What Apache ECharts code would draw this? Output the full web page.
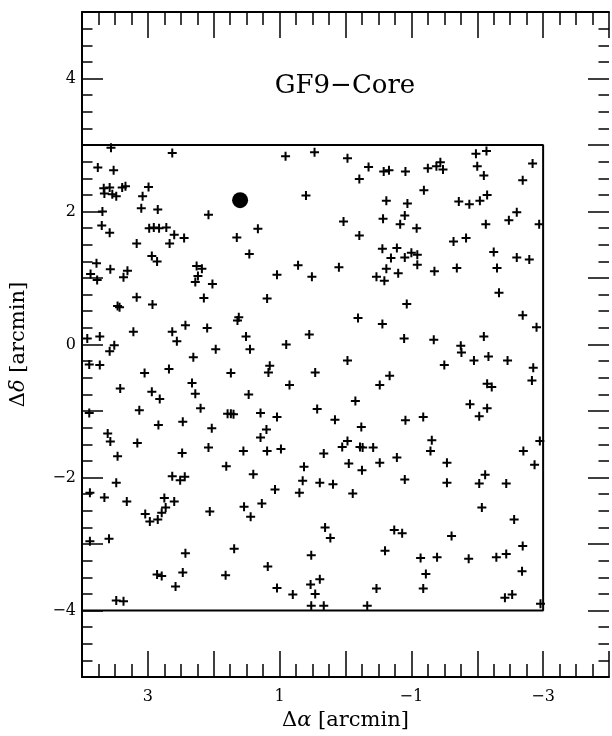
<!DOCTYPE html>
<html><head><meta charset="utf-8">
<script src="https://cdn.jsdelivr.net/npm/echarts@6/dist/echarts.min.js"></script>
<style>html,body{margin:0;padding:0;background:#fff}#c{width:612px;height:736px}</style>
</head><body><div id="c"></div>
<script>
// ---- data (arcmin offsets) ----
const titleText = 'GF9\u2212Core';
const xLabelValues = [3, 1, -1, -3];
const yLabelValues = [4, 2, 0, -2, -4];
const boxAlpha = [4, -3, -3, 4, 4];
const boxDelta = [3, 3, -4, -4, 3];
const coreAlpha = [1.60];
const coreDelta = [2.17];
const sources = [
[3.56,2.96],[2.63,2.88],[3.76,2.66],[3.52,2.62],[3.67,2.35],[3.58,2.36],[3.66,2.27],[3.54,2.26],[3.48,2.23],[3.39,2.36],[3.34,2.38],[2.99,2.37],[3.08,2.23],[3.10,2.05],[2.85,2.03],[3.69,2.00],[2.08,1.95],[3.70,1.79],[3.58,1.68],[2.98,1.75],[2.91,1.76],[2.83,1.75],[2.72,1.76],[2.60,1.65],[2.45,1.60],[2.67,1.52],[3.17,1.52],[1.65,1.61],[2.94,1.33],[2.86,1.25],[3.78,1.22],[3.57,1.13],[3.31,1.11],[3.37,1.01],[3.87,1.06],[3.77,0.97],[2.26,1.18],[2.18,1.14],[2.24,1.03],[2.28,0.94],[2.02,0.91],[2.15,0.70],[3.17,0.71],[3.46,0.58],[3.43,0.56],[2.93,0.60],[1.62,0.41],[1.64,0.36],[2.43,0.29],[2.10,0.25],[3.22,0.19],[2.63,0.19],[2.56,0.05],[3.92,0.09],[3.73,0.12],[3.51,-0.01],[3.58,-0.10],[1.97,-0.07],[2.31,-0.19],[3.89,-0.30],[3.73,-0.31],[3.05,-0.43],[2.68,-0.37],[1.74,-0.43],
[0.91,2.83],[0.47,2.89],[-0.03,2.80],[-0.35,2.67],[-0.21,2.49],[-0.58,2.60],[-0.66,2.62],[0.60,2.24],[-0.62,2.16],[1.33,1.74],[0.03,1.85],[-0.21,1.64],[-0.57,1.89],[1.46,1.36],[-0.56,1.44],[-0.69,1.30],[-0.62,1.14],[-0.47,1.02],[-0.59,0.96],[0.72,1.19],[1.04,1.05],[0.51,1.02],[0.10,1.16],[1.19,0.69],[-0.19,0.40],[-0.56,0.31],[1.51,0.12],[1.45,-0.07],[0.90,0.00],[0.55,0.15],[-0.03,-0.24],[1.15,-0.32],[1.17,-0.42],[0.46,-0.42],[-0.67,-0.47],
[-1.98,2.87],[-2.14,2.91],[-2.84,2.72],[-0.91,2.60],[-1.25,2.65],[-1.38,2.68],[-1.44,2.74],[-1.48,2.63],[-2.00,2.68],[-2.10,2.54],[-2.69,2.47],[-1.19,2.32],[-0.94,2.12],[-1.72,2.15],[-1.88,2.11],[-2.04,2.16],[-2.15,2.25],[-0.90,1.94],[-0.83,1.81],[-1.08,1.75],[-2.13,1.81],[-2.48,1.87],[-2.60,1.99],[-2.94,1.81],[-1.64,1.55],[-1.83,1.60],[-0.78,1.45],[-0.90,1.31],[-1.00,1.38],[-1.09,1.35],[-1.09,1.20],[-0.80,1.07],[-1.35,1.10],[-1.69,1.15],[-2.25,1.39],[-2.30,1.15],[-2.60,1.31],[-2.79,1.28],[-2.33,0.78],[-0.93,0.61],[-2.69,0.44],[-2.90,0.26],[-0.89,0.09],[-1.34,0.07],[-2.10,0.12],[-1.75,-0.02],[-1.76,-0.12],[-1.95,-0.24],[-2.17,-0.18],[-2.46,-0.24],[-1.50,-0.31],[-2.85,-0.35],
[3.42,-0.66],[2.94,-0.71],[2.82,-0.82],[2.33,-0.58],[2.28,-0.74],[2.20,-0.96],[3.89,-1.03],[3.13,-0.99],[1.79,-1.04],[1.74,-1.04],[1.70,-1.05],[2.84,-1.21],[2.47,-1.16],[2.03,-1.26],[3.61,-1.34],[3.57,-1.46],[3.16,-1.48],[3.46,-1.68],[2.48,-1.63],[2.08,-1.55],[1.81,-1.83],[2.63,-1.98],[2.51,-2.04],[2.44,-1.99],[3.48,-2.08],[3.88,-2.23],[3.66,-2.30],[3.32,-2.36],[2.75,-2.31],[2.60,-2.36],[2.73,-2.45],[2.79,-2.53],[3.04,-2.55],[2.97,-2.66],[2.85,-2.63],[2.06,-2.51],[3.88,-2.96],[3.59,-2.92],[2.43,-3.14],[1.69,-3.07],[2.86,-3.46],[2.79,-3.48],[2.47,-3.43],[2.58,-3.64],[1.82,-3.47],[3.48,-3.85],[3.37,-3.86],
[0.85,-0.61],[1.47,-0.75],[-0.52,-0.61],[-0.15,-0.85],[0.43,-0.97],[1.29,-1.03],[1.04,-1.09],[0.16,-1.13],[-0.24,-1.24],[1.20,-1.28],[1.29,-1.40],[1.55,-1.60],[1.19,-1.60],[0.98,-1.57],[0.33,-1.64],[0.05,-1.54],[-0.03,-1.45],[-0.22,-1.54],[-0.26,-1.55],[-0.42,-1.55],[-0.05,-1.79],[-0.25,-1.89],[-0.52,-1.78],[0.63,-1.84],[1.40,-1.95],[0.65,-2.05],[0.39,-2.08],[0.19,-2.10],[0.70,-2.23],[1.07,-2.18],[-0.11,-2.24],[1.54,-2.44],[1.27,-2.39],[1.44,-2.59],[0.31,-2.75],[0.23,-2.91],[-0.60,-3.10],[0.52,-3.17],[1.18,-3.34],[1.04,-3.66],[0.80,-3.76],[0.53,-3.61],[0.39,-3.53],[0.46,-3.75],[0.52,-3.93],[0.33,-3.93],[-0.33,-3.93],[-0.47,-3.67],
[-2.15,-0.59],[-2.22,-0.64],[-2.83,-0.54],[-1.89,-0.90],[-2.15,-0.96],[-2.03,-1.08],[-0.91,-1.14],[-1.18,-1.09],[-1.31,-1.44],[-1.29,-1.60],[-0.78,-1.70],[-1.54,-1.78],[-2.70,-1.60],[-2.95,-1.45],[-2.87,-1.81],[-0.90,-2.03],[-1.54,-2.08],[-2.12,-1.96],[-2.03,-2.09],[-2.44,-2.09],[-2.07,-2.45],[-2.56,-2.63],[-0.74,-2.79],[-0.86,-2.84],[-1.61,-2.88],[-1.14,-3.21],[-1.39,-3.20],[-1.87,-3.22],[-2.29,-3.20],[-2.44,-3.15],[-2.69,-3.03],[-1.22,-3.45],[-2.68,-3.41],[-1.18,-3.67],[-2.42,-3.81],[-2.53,-3.76],[-2.96,-3.90]
];

// ---- chart ----
const FONT = '"DejaVu Serif", serif';
const fmtMinus = v => String(v).replace('-', '\u2212');
const PLUS = 'path://M7,0H11V7H18V11H11V18H7V11H0V7H7Z';
const nameRich = {
  r: { fontFamily: FONT, fontSize: 21, color: '#000' },
  i: { fontFamily: FONT, fontSize: 21, fontStyle: 'italic', color: '#000' }
};

function xAxisCfg(pos, showLabel) {
  return {
    type: 'value', min: -4, max: 4, interval: 1, inverse: true, position: pos,
    axisLine: { onZero: false, lineStyle: { color: '#000', width: 2 } },
    axisTick: { inside: true, length: 26, lineStyle: { color: '#000', width: 1.5 } },
    minorTick: { show: true, splitNumber: 4, length: 13, lineStyle: { color: '#000', width: 1.5 } },
    splitLine: { show: false }, minorSplitLine: { show: false },
    axisLabel: {
      show: showLabel, margin: 12, color: '#000', fontFamily: FONT, fontSize: 16,
      formatter: v => xLabelValues.indexOf(v) >= 0 ? fmtMinus(v) : ''
    },
    name: showLabel ? '{r|\u0394}{i|\u03b1}{r| [arcmin]}' : '',
    nameLocation: 'middle', nameGap: 33,
    nameTextStyle: { rich: nameRich }
  };
}
function yAxisCfg(pos, showLabel) {
  return {
    type: 'value', min: -5, max: 5, interval: 1, position: pos,
    axisLine: { show: showLabel, onZero: false, lineStyle: { color: '#000', width: 2 } },
    axisTick: { show: true, inside: true, length: 21, lineStyle: { color: '#000', width: 1.5 } },
    minorTick: { show: true, splitNumber: 4, length: 10.5, lineStyle: { color: '#000', width: 1.5 } },
    splitLine: { show: false }, minorSplitLine: { show: false },
    axisLabel: {
      show: showLabel, margin: 6, color: '#000', fontFamily: FONT, fontSize: 16,
      formatter: v => yLabelValues.indexOf(v) >= 0 ? fmtMinus(v) : ''
    },
    name: showLabel ? '{r|\u0394}{i|\u03b4}{r| [arcmin]}' : '',
    nameLocation: 'middle', nameGap: 53,
    nameTextStyle: { rich: nameRich }
  };
}

const chart = echarts.init(document.getElementById('c'), null, { renderer: 'canvas' });
chart.setOption({
  animation: false,
  backgroundColor: '#fff',
  grid: { left: 78, right: 0, top: 12, bottom: 56, containLabel: false },
  xAxis: [xAxisCfg('bottom', true), xAxisCfg('top', false)],
  yAxis: [yAxisCfg('left', true), yAxisCfg('right', false)],
  graphic: [{
    type: 'text', x: 345, y: 86, z: 100,
    style: { text: titleText, fill: '#000', fontFamily: FONT, fontSize: 26,
             align: 'center', verticalAlign: 'middle', textAlign: 'center', textVerticalAlign: 'middle' }
  }],
  series: [
    {
      type: 'line', xAxisIndex: 0, yAxisIndex: 0, silent: true, symbol: 'none',
      data: boxAlpha.map((a, i) => [a, boxDelta[i]]),
      lineStyle: { color: '#000', width: 2 }, z: 1
    },
    {
      type: 'scatter', xAxisIndex: 0, yAxisIndex: 0, symbol: PLUS, symbolSize: 9,
      data: sources, itemStyle: { color: '#000', opacity: 1 }, z: 3
    },
    {
      type: 'scatter', xAxisIndex: 0, yAxisIndex: 0, symbol: 'circle', symbolSize: 16,
      data: coreAlpha.map((a, i) => [a, coreDelta[i]]), itemStyle: { color: '#000', opacity: 1 }, z: 4
    }
  ]
});
</script>
</body></html>
